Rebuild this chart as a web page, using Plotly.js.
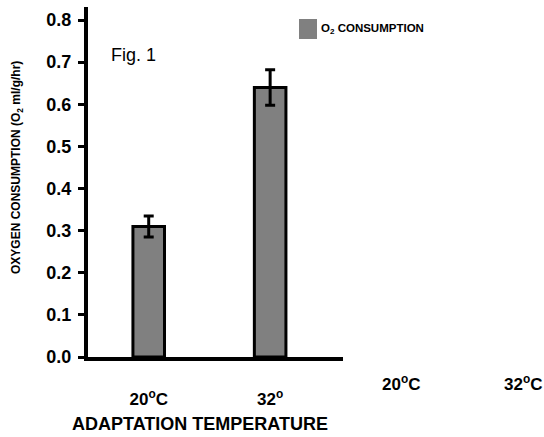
<!DOCTYPE html>
<html>
<head>
<meta charset="utf-8">
<script src="https://cdn.plot.ly/plotly-3.0.1.min.js"></script>
<style>html,body{margin:0;padding:0;background:#fff;}#chart{width:544px;height:437px;}</style>
</head>
<body>
<div id="chart"></div>
<script>
const categories = ["20°C", "32°"];
const categoryLabels = ["20<sup>o</sup>C", "32<sup>o</sup>"];
const o2Consumption = [0.31, 0.64];
const o2Error = [0.025, 0.042];
const yTickVals = [0.0, 0.1, 0.2, 0.3, 0.4, 0.5, 0.6, 0.7, 0.8];
const extraLabels = ["20<sup>o</sup>C", "32<sup>o</sup>C"];
const seriesName = "O<sub>2</sub> CONSUMPTION";
const yTitle = "OXYGEN CONSUMPTION (O<sub>2</sub> ml/g/hr)";
const xTitle = "ADAPTATION TEMPERATURE";
const figLabel = "Fig. 1";

const FONT = "Liberation Sans, Arial, sans-serif";
const b = s => "<b>" + s + "</b>";

const trace = {
  type: "bar",
  x: categories,
  y: o2Consumption,
  name: seriesName,
  width: 0.26,
  marker: {color: "#808080", line: {color: "#000", width: 3}},
  error_y: {type: "data", array: o2Error, visible: true, color: "#000", thickness: 3, width: 5},
  showlegend: false,
  hoverinfo: "x+y"
};

const layout = {
  width: 544, height: 437,
  margin: {l: 88, r: 201, t: 7, b: 80},
  paper_bgcolor: "#fff", plot_bgcolor: "#fff",
  font: {family: FONT, color: "#000"},
  xaxis: {
    type: "category",
    categoryorder: "array", categoryarray: categories,
    tickvals: categories,
    ticktext: categoryLabels.map(b),
    range: [-0.5, 1.6],
    showline: true, linewidth: 4, linecolor: "#000",
    ticks: "", showgrid: false, zeroline: false,
    tickfont: {family: FONT, size: 17, color: "#000"},
    ticklabelstandoff: 24,
    fixedrange: true
  },
  yaxis: {
    range: [0, 0.831],
    tickvals: yTickVals,
    ticktext: yTickVals.map(v => b(v.toFixed(1))),
    showline: true, linewidth: 4, linecolor: "#000",
    ticks: "outside", ticklen: 6, tickwidth: 3, tickcolor: "#000",
    showgrid: false, zeroline: false,
    tickfont: {family: FONT, size: 18, color: "#000"},
    ticklabelstandoff: 3,
    fixedrange: true
  },
  shapes: [
    {type: "rect", xref: "paper", yref: "paper",
     x0: (299-88)/255, x1: (317-88)/255, y0: (357-39)/350, y1: (357-19)/350,
     fillcolor: "#808080", line: {width: 0}}
  ],
  annotations: [
    {text: b(seriesName), xref: "paper", yref: "paper", x: (319-88)/255, y: (357-29)/350,
     xanchor: "left", yanchor: "middle", showarrow: false,
     font: {family: FONT, size: 11.5, color: "#000"}},
    {text: figLabel, xref: "paper", yref: "paper", x: (133-88)/255, y: (357-55)/350,
     xanchor: "center", yanchor: "middle", showarrow: false,
     font: {family: FONT, size: 18, color: "#000"}},
    {text: b(yTitle), xref: "paper", yref: "paper", x: (17-88)/255, y: (357-168)/350,
     xanchor: "center", yanchor: "middle", textangle: -90, showarrow: false,
     font: {family: FONT, size: 12, color: "#000"}},
    {text: b(xTitle), xref: "paper", yref: "paper", x: (200-88)/255, y: (357-424)/350,
     xanchor: "center", yanchor: "middle", showarrow: false,
     font: {family: FONT, size: 18, color: "#000"}},
    {text: b(extraLabels[0]), xref: "paper", yref: "paper", x: (401-88)/255, y: (357-383)/350,
     xanchor: "center", yanchor: "middle", showarrow: false,
     font: {family: FONT, size: 17, color: "#000"}},
    {text: b(extraLabels[1]), xref: "paper", yref: "paper", x: (523-88)/255, y: (357-383)/350,
     xanchor: "center", yanchor: "middle", showarrow: false,
     font: {family: FONT, size: 17, color: "#000"}}
  ]
};

Plotly.newPlot("chart", [trace], layout, {displayModeBar: false, staticPlot: true});
</script>
</body>
</html>
